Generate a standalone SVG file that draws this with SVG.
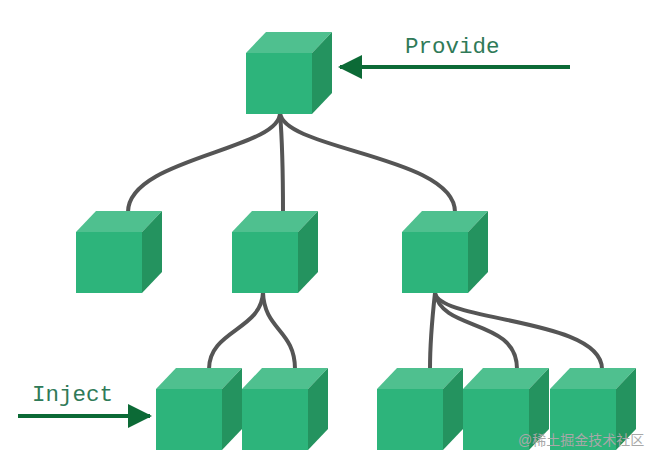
<svg xmlns="http://www.w3.org/2000/svg" width="658" height="464" viewBox="0 0 658 464">
<style>
.front{fill:#2db47b}
.top{fill:#4fc08f}
.side{fill:#24935f}
.conn{fill:none;stroke:#555555;stroke-width:4;stroke-linecap:round}
.arrow{stroke:#0c6a36;stroke-width:4;fill:none}
.label{font-family:"Liberation Mono","DejaVu Sans Mono",monospace;font-size:22.5px;fill:#2f7a58}
.wm{font-family:"Liberation Sans","Noto Sans CJK SC",sans-serif;font-size:14px;fill:#a8a8a8}
</style>
<defs>
<g id="cube">
<polygon class="top" points="0,0 20,-21 86,-21 66,0"/>
<polygon class="side" points="66,0 86,-21 86,40 66,61"/>
<rect class="front" x="0" y="0" width="66" height="61"/>
</g>
<marker id="ah" markerWidth="6" markerHeight="6" viewBox="0 0 6 6" refX="5.5" refY="3" orient="auto" markerUnits="strokeWidth">
<polygon points="0,0 6,3 0,6" fill="#0c6a36"/>
</marker>
</defs>
<g id="connectors">
<path class="conn" d="M280,113 C280,150 128,158 128,212"/>
<path class="conn" d="M280,113 C283,150 283,180 283,212"/>
<path class="conn" d="M280,113 C284,150 455,156 455,212"/>
<path class="conn" d="M263,292 C262,330 209,330 209,369"/>
<path class="conn" d="M263,292 C264,330 295,330 295,369"/>
<path class="conn" d="M435,293 C432,320 430,340 430,369"/>
<path class="conn" d="M435,293 C442,332 517,318 517,369"/>
<path class="conn" d="M435,293 C440,322 602,318 602,369"/>
</g>
<g id="provide-arrow">
<line class="arrow" x1="570" y1="67" x2="340" y2="67" marker-end="url(#ah)"/>
<text class="label" x="405" y="53">Provide</text>
</g>
<g id="inject-arrow">
<line class="arrow" x1="18" y1="416" x2="150" y2="416" marker-end="url(#ah)"/>
<text class="label" x="32" y="401">Inject</text>
</g>
<g id="nodeA"><use href="#cube" x="246" y="53"/></g>
<g id="nodeB"><use href="#cube" x="76" y="232"/></g>
<g id="nodeC"><use href="#cube" x="232" y="232"/></g>
<g id="nodeD"><use href="#cube" x="402" y="232"/></g>
<g id="nodeE"><use href="#cube" x="156" y="389"/></g>
<g id="nodeF"><use href="#cube" x="242" y="389"/></g>
<g id="nodeG"><use href="#cube" x="377" y="389"/></g>
<g id="nodeH"><use href="#cube" x="463" y="389"/></g>
<g id="nodeI"><use href="#cube" x="550" y="389"/></g>
<text class="wm" x="518" y="445">@稀土掘金技术社区</text>
</svg>
